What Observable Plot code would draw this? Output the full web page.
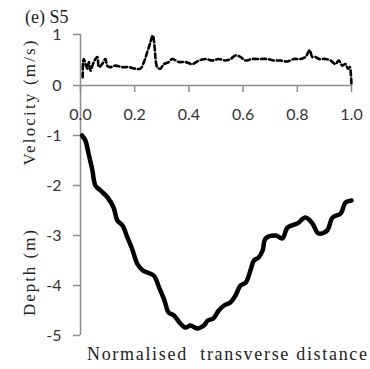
<!DOCTYPE html>
<html>
<head>
<meta charset="utf-8">
<script src="https://cdn.jsdelivr.net/npm/d3@7"></script>
<script src="https://cdn.jsdelivr.net/npm/@observablehq/plot@0.6"></script>
<style>
  html, body { margin: 0; padding: 0; background: #fff; }
  #chart { position: relative; width: 370px; height: 369px; overflow: hidden; }
  #chart > svg, #chart > figure { position: absolute; left: 0; top: 0; margin: 0; }
  .lbl { font-family: "Liberation Serif", "DejaVu Serif", serif; fill: #222; white-space: pre; }
</style>
</head>
<body>
<div id="chart"></div>
<script>
// Section S5: surface velocity (top) and bed depth (bottom) across the channel
const xTicks = [0, 0.2, 0.4, 0.6, 0.8, 1.0];
const velocityTicks = [0, 1];
const depthTicks = [-1, -2, -3, -4, -5];

// Surface velocity, m/s, against normalised transverse distance
const velX = [0.008, 0.012, 0.025, 0.031, 0.037, 0.049, 0.062, 0.068, 0.08, 0.092, 0.098, 0.11, 0.129, 0.154, 0.178, 0.203, 0.221, 0.234, 0.246, 0.258, 0.267, 0.274, 0.277, 0.283, 0.295, 0.307, 0.326, 0.338, 0.363, 0.387, 0.412, 0.437, 0.461, 0.486, 0.51, 0.535, 0.554, 0.572, 0.59, 0.609, 0.634, 0.658, 0.689, 0.713, 0.738, 0.763, 0.787, 0.812, 0.83, 0.846, 0.855, 0.867, 0.88, 0.904, 0.923, 0.941, 0.953, 0.966, 0.978, 0.987, 0.994, 0.997, 1.0];
const velV = [0.16, 0.52, 0.33, 0.46, 0.29, 0.46, 0.56, 0.36, 0.42, 0.52, 0.39, 0.36, 0.39, 0.36, 0.36, 0.33, 0.33, 0.46, 0.65, 0.85, 0.98, 0.72, 0.52, 0.36, 0.33, 0.42, 0.46, 0.52, 0.46, 0.46, 0.42, 0.49, 0.52, 0.49, 0.52, 0.49, 0.52, 0.59, 0.56, 0.49, 0.52, 0.52, 0.52, 0.49, 0.49, 0.47, 0.52, 0.52, 0.56, 0.69, 0.56, 0.56, 0.52, 0.52, 0.49, 0.42, 0.49, 0.39, 0.42, 0.33, 0.36, 0.26, 0.0];

// Bed depth, m, against normalised transverse distance
const depX = [0.006, 0.018, 0.03, 0.044, 0.055, 0.074, 0.1, 0.122, 0.136, 0.155, 0.173, 0.19, 0.21, 0.23, 0.27, 0.29, 0.31, 0.325, 0.345, 0.37, 0.387, 0.406, 0.43, 0.455, 0.47, 0.49, 0.51, 0.53, 0.553, 0.572, 0.59, 0.61, 0.627, 0.64, 0.657, 0.672, 0.683, 0.72, 0.745, 0.764, 0.8, 0.83, 0.856, 0.878, 0.91, 0.93, 0.96, 0.978, 1.0];
const depD = [-1.0, -1.1, -1.37, -1.7, -2.0, -2.1, -2.24, -2.44, -2.7, -2.8, -3.04, -3.26, -3.57, -3.7, -3.8, -4.04, -4.3, -4.54, -4.6, -4.77, -4.84, -4.8, -4.86, -4.8, -4.7, -4.66, -4.5, -4.4, -4.34, -4.2, -4.0, -3.94, -3.7, -3.5, -3.44, -3.3, -3.06, -3.0, -3.06, -2.84, -2.76, -2.64, -2.76, -2.96, -2.9, -2.64, -2.56, -2.34, -2.3];

const velocity = velX.map((x, i) => ({x, v: velV[i]}));
const depth = depX.map((x, i) => ({x, d: depD[i]}));

const axisGrey = "#8c8c8c";
const tickText = "#333";
const common = {
  width: 370,
  marginLeft: 80,
  marginRight: 19,
  style: {background: "transparent", fontFamily: "Lato, 'Open Sans', sans-serif", fontSize: "16px", overflow: "visible"}
};

// Lower panel: depth profile, y runs from 0 (at the velocity baseline) down to -5
const depthPlot = Plot.plot({
  ...common,
  height: 369,
  marginTop: 85,
  marginBottom: 34,
  x: {domain: [0, 1], axis: null},
  y: {domain: [-5, 0]},
  marks: [
    Plot.ruleX([0], {stroke: axisGrey, strokeWidth: 1.5}),
    Plot.axisY({ticks: depthTicks, tickFormat: d => String(d), tickSize: 7, tickPadding: 12, label: null, stroke: axisGrey, strokeWidth: 1.5, fill: tickText}),
    Plot.line(depth, {x: "x", y: "d", curve: "catmull-rom", stroke: "#000", strokeWidth: 4.5, strokeLinejoin: "round", strokeLinecap: "round"})
  ]
});

// Upper panel: surface velocity, dashed
const velocityPlot = Plot.plot({
  ...common,
  height: 130,
  marginTop: 34,
  marginBottom: 45,
  x: {domain: [0, 1]},
  y: {domain: [0, 1]},
  marks: [
    Plot.ruleY([0], {stroke: axisGrey, strokeWidth: 1.5}),
    Plot.ruleX([0], {stroke: axisGrey, strokeWidth: 1.5}),
    Plot.axisX({ticks: xTicks, tickFormat: d => d.toFixed(1), tickSize: 7, tickPadding: 16, label: null, stroke: axisGrey, strokeWidth: 1.5, fill: tickText}),
    Plot.axisY({ticks: velocityTicks, tickFormat: d => String(d), tickSize: 7, tickPadding: 12, label: null, stroke: axisGrey, strokeWidth: 1.5, fill: tickText}),
    Plot.line(velocity, {x: "x", y: "v", curve: "catmull-rom", stroke: "#000", strokeWidth: 2.6, strokeDasharray: "5,3"})
  ]
});

const chart = document.getElementById("chart");
chart.appendChild(depthPlot);
chart.appendChild(velocityPlot);

// Panel title and axis titles
const ns = "http://www.w3.org/2000/svg";
const labels = document.createElementNS(ns, "svg");
labels.setAttribute("width", 370);
labels.setAttribute("height", 369);
labels.style.position = "absolute";
labels.style.left = "0";
labels.style.top = "0";
labels.style.pointerEvents = "none";
function addText(str, attrs) {
  const t = document.createElementNS(ns, "text");
  t.setAttribute("class", "lbl");
  for (const k in attrs) t.setAttribute(k, attrs[k]);
  t.textContent = str;
  labels.appendChild(t);
}
addText("(e) S5", {x: 25, y: 23, "font-size": 18});
addText("Velocity (m/s)", {transform: "translate(35,103) rotate(-90)", "text-anchor": "middle", "font-size": 17, textLength: 125, lengthAdjust: "spacing"});
addText("Depth (m)", {transform: "translate(35,273) rotate(-90)", "text-anchor": "middle", "font-size": 17, textLength: 86, lengthAdjust: "spacing"});
addText("Normalised  transverse distance", {x: 87, y: 360, "font-size": 18, textLength: 280, lengthAdjust: "spacing"});
chart.appendChild(labels);
</script>
</body>
</html>
